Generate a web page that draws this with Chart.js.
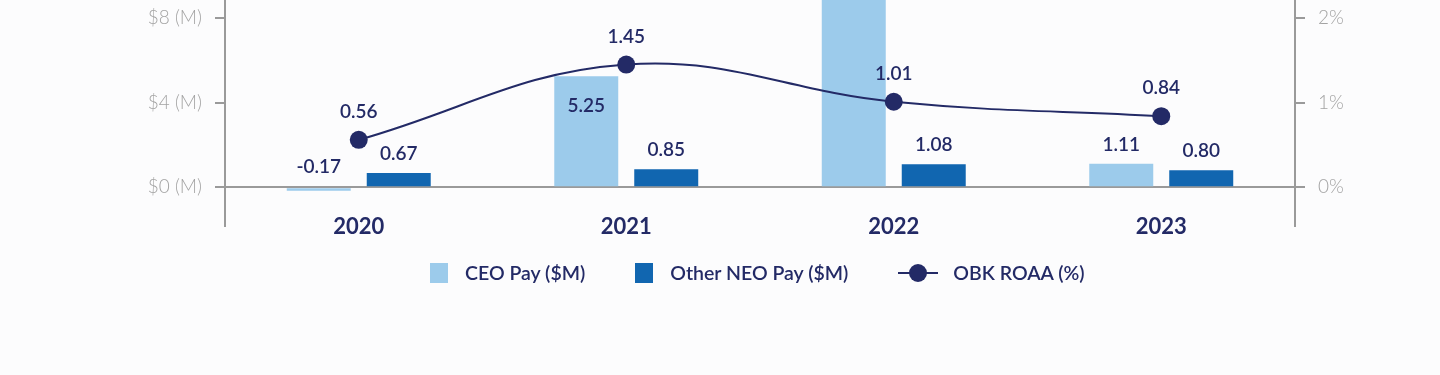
<!DOCTYPE html>
<html>
<head>
<meta charset="utf-8">
<script src="https://cdn.jsdelivr.net/npm/chart.js@4.4.1/dist/chart.umd.min.js"></script>
<style>
    body { margin: 0; background: #fcfcfd; overflow: hidden; font-family: 'Lato', sans-serif; }
    #wrap { position: absolute; left: 0; top: -91px; width: 1440px; height: 353px; }
    #legend { position: absolute; left: 430px; top: 261px; display: flex; align-items: center; color: #232a66; font-size: 19.5px; font-weight: 600; }
    .item { display: flex; align-items: center; margin-right: 50px; }
    .box { width: 18px; height: 20px; margin-right: 17px; }
    .mark { position: relative; width: 40px; height: 20px; margin-right: 15px; }
    .mark .ln { position: absolute; left: 0; right: 0; top: 9px; height: 2px; background: #232a66; }
    .mark .dot { position: absolute; left: 11px; top: 1px; width: 18px; height: 18px; border-radius: 50%; background: #232a66; }
</style>
</head>
<body>
<div id="wrap"><canvas id="payChart"></canvas></div>
<div id="legend"></div>
<script>
const years = ['2020', '2021', '2022', '2023'];
const ceoPay = [-0.17, 5.25, 11.5, 1.11];
const neoPay = [0.67, 0.85, 1.08, 0.80];
const roaa = [0.56, 1.45, 1.01, 0.84];
const payTicks = [0, 4, 8, 12];
const roaaTicks = [0, 1, 2, 3];
const seriesNames = ['CEO Pay ($M)', 'Other NEO Pay ($M)', 'OBK ROAA (%)'];

const navy = '#232a66';
const axisGray = '#9a9a9a';

// value labels over bars and points, plus the year labels under the axis
const valueLabels = {
    id: 'valueLabels',
    afterDatasetsDraw(chart) {
        const ctx = chart.ctx;
        ctx.save();
        ctx.fillStyle = navy;
        ctx.font = "600 19px 'Lato', sans-serif";
        ctx.textAlign = 'center';
        ctx.textBaseline = 'middle';
        chart.data.datasets.forEach((ds, i) => {
            const meta = chart.getDatasetMeta(i);
            meta.data.forEach((el, j) => {
                const v = ds.data[j];
                const txt = v.toFixed(2);
                let y;
                if (ds.type === 'line') {
                    y = el.y - 28;
                } else if (v < 0) {
                    y = el.base - 21;
                } else if (el.base - el.y > 60) {
                    y = el.y + 30;
                } else {
                    y = el.y - 19;
                }
                ctx.fillText(txt, el.x, y);
            });
        });

        const xs = chart.scales.x;
        ctx.font = "bold 22px 'Lato', sans-serif";
        years.forEach((yr, j) => {
            ctx.fillText(yr, xs.getPixelForValue(j), chart.chartArea.bottom + 1);
        });
        ctx.restore();
    }
};

const ctx = document.getElementById('payChart').getContext('2d');
const payChart = new Chart(ctx, {
    data: {
        labels: years,
        datasets: [{
            type: 'line',
            label: seriesNames[2],
            data: roaa,
            yAxisID: 'y1',
            borderColor: navy,
            backgroundColor: navy,
            borderWidth: 2,
            tension: 0.4,
            pointRadius: 9,
            pointHoverRadius: 9,
            pointBorderWidth: 0,
            pointBackgroundColor: navy,
            order: 0
        }, {
            type: 'bar',
            label: seriesNames[0],
            data: ceoPay,
            yAxisID: 'y',
            backgroundColor: '#9ccbeb',
            borderWidth: 0,
            barPercentage: 0.8,
            categoryPercentage: 0.598,
            order: 1
        }, {
            type: 'bar',
            label: seriesNames[1],
            data: neoPay,
            yAxisID: 'y',
            backgroundColor: '#1166b0',
            borderWidth: 0,
            barPercentage: 0.8,
            categoryPercentage: 0.598,
            order: 1
        }]
    },
    options: {
        responsive: true,
        maintainAspectRatio: false,
        animation: false,
        layout: { padding: { top: 0, bottom: 36, left: 0, right: 0 } },
        scales: {
            x: {
                display: false
            },
            y: {
                position: 'left',
                min: -1.835,
                max: 12,
                afterBuildTicks: (scale) => { scale.ticks = payTicks.map(v => ({ value: v })); },
                afterFit: (scale) => { scale.width = 225; },
                border: { display: true, color: axisGray, width: 2 },
                grid: {
                    drawTicks: true,
                    tickLength: 10,
                    tickColor: axisGray,
                    lineWidth: 2,
                    color: (c) => (c.tick && c.tick.value === 0 ? axisGray : 'rgba(0,0,0,0)')
                },
                ticks: {
                    color: '#a3a3a3',
                    padding: 13,
                    font: { family: "'Lato', sans-serif", size: 19, weight: 300 },
                    callback: (v) => '$' + v + ' (M)'
                }
            },
            y1: {
                position: 'right',
                min: -1.835 / 4,
                max: 3,
                afterBuildTicks: (scale) => { scale.ticks = roaaTicks.map(v => ({ value: v })); },
                afterFit: (scale) => { scale.width = 145; },
                border: { display: true, color: axisGray, width: 2 },
                grid: {
                    drawOnChartArea: false,
                    drawTicks: true,
                    tickLength: 10,
                    tickColor: axisGray,
                    lineWidth: 2
                },
                ticks: {
                    color: '#a3a3a3',
                    padding: 13,
                    font: { family: "'Lato', sans-serif", size: 19, weight: 300 },
                    callback: (v) => v + '%'
                }
            }
        },
        plugins: {
            legend: { display: false },
            tooltip: { enabled: false }
        }
    },
    plugins: [valueLabels]
});

// legend
const legendEl = document.getElementById('legend');
legendEl.innerHTML =
    '<div class="item"><div class="box" style="background:#9ccbeb"></div>' + seriesNames[0] + '</div>' +
    '<div class="item"><div class="box" style="background:#1166b0"></div>' + seriesNames[1] + '</div>' +
    '<div class="item"><div class="mark"><div class="ln"></div><div class="dot"></div></div>' + seriesNames[2] + '</div>';
</script>
</body>
</html>
